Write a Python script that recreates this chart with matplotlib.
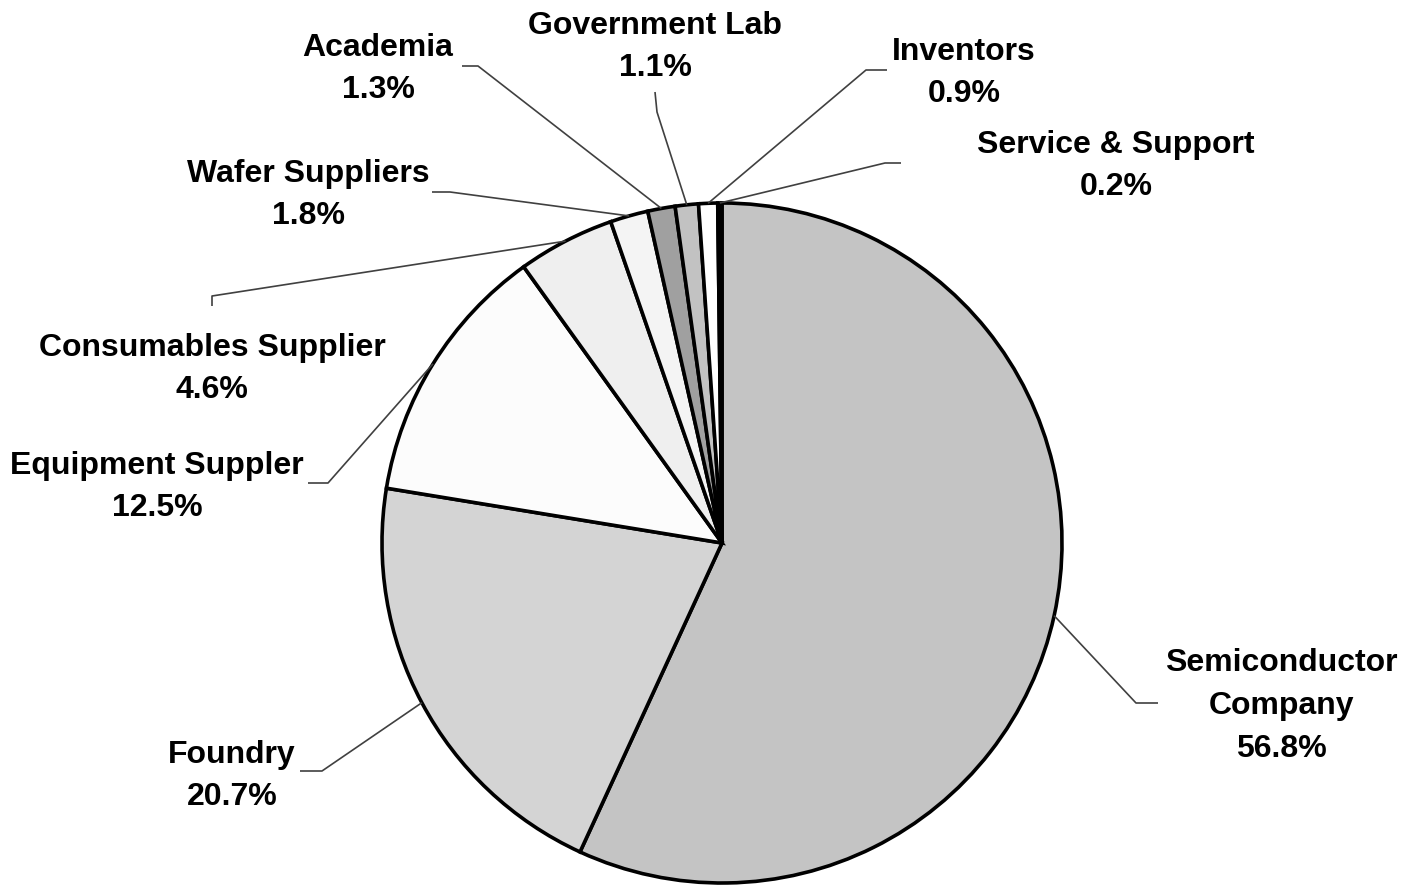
import numpy as np
import matplotlib
matplotlib.use("Agg")
import matplotlib.pyplot as plt

# share of respondents by organisation type
labels = ["Semiconductor\nCompany", "Foundry", "Equipment Suppler", "Consumables Supplier",
          "Wafer Suppliers", "Academia", "Government Lab", "Inventors", "Service & Support"]
shares = [56.8, 20.7, 12.5, 4.6, 1.8, 1.3, 1.1, 0.9, 0.2]
colors = ["#c4c4c4", "#d4d4d4", "#fcfcfc", "#efefef", "#f4f4f4",
          "#a0a0a0", "#c2c2c2", "#ffffff", "#000000"]

# label text centre, leader elbow and leader end (pixel space, y down)
text_pos = [(1281, 706), (232, 776), (157, 487), (212, 369), (308, 195),
            (378, 69), (655, 47), (964, 73), (1116, 166)]
elbows = [(1136, 703), (322, 771), (328, 483), (212, 296), (450, 192),
          (478, 66), (657, 112), (866, 70), (885, 163)]
ends = [(1158, 703), (300, 771), (308, 483), (212, 306), (432, 192),
        (462, 66), (655, 92), (887, 70), (901, 163)]

W, H = 1406, 886
fig = plt.figure(figsize=(W / 100, H / 100), dpi=100)
ax = fig.add_axes([0, 0, 1, 1])

cx, cy, r = 722, H - 543, 340
wedges, _ = ax.pie(shares, colors=colors, startangle=90, counterclock=False,
                   center=(cx, cy), radius=r, frame=True,
                   wedgeprops=dict(edgecolor="black", linewidth=2.6))
ax.set_xlim(0, W)
ax.set_ylim(0, H)
ax.set_aspect("equal")
ax.axis("off")

for w, lab, val, tp, el, en in zip(wedges, labels, shares, text_pos, elbows, ends):
    mid = np.deg2rad((w.theta1 + w.theta2) / 2)
    px, py = cx + r * np.cos(mid), cy + r * np.sin(mid)
    ax.plot([px, el[0], en[0]], [py, H - el[1], H - en[1]],
            color="#404040", lw=1.2, solid_capstyle="butt")
    ax.text(tp[0], H - tp[1], f"{lab}\n{val}%", ha="center", va="center",
            fontsize=23, fontweight="bold", family="Liberation Sans",
            linespacing=1.55)

fig.savefig("out.png", dpi=100)
